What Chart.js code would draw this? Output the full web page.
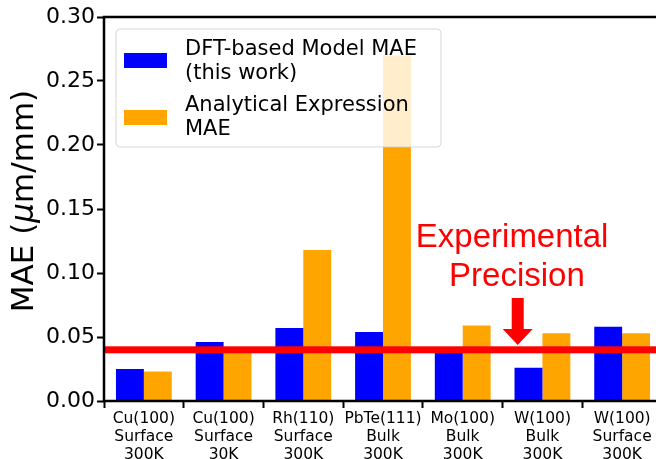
<!DOCTYPE html>
<html>
<head>
<meta charset="utf-8">
<script src="https://cdn.jsdelivr.net/npm/chart.js@4"></script>
<style>
  body { margin: 0; overflow: hidden; background: #fff; }
  #wrap { width: 680px; height: 459px; }
</style>
</head>
<body>
<div id="wrap"><canvas id="maeChart" width="680" height="459"></canvas></div>
<script>
// categories (one line per row of the tick label)
const systems = [
    ['Cu(100)', 'Surface', '300K'],
    ['Cu(100)', 'Surface', '30K'],
    ['Rh(110)', 'Surface', '300K'],
    ['PbTe(111)', 'Bulk', '300K'],
    ['Mo(100)', 'Bulk', '300K'],
    ['W(100)', 'Bulk', '300K'],
    ['W(100)', 'Surface', '300K']
];

// MAE in um/mm
const dftMae = [0.025, 0.046, 0.057, 0.054, 0.040, 0.026, 0.058];
const analyticalMae = [0.023, 0.041, 0.118, 0.270, 0.059, 0.053, 0.053];

const legendLines = [
    ['DFT-based Model MAE', '(this work)'],
    ['Analytical Expression', 'MAE']
];

const experimentalPrecision = 0.04;
const yTicks = [0, 0.05, 0.10, 0.15, 0.20, 0.25, 0.30];

const BLUE = '#0000ff';
const ORANGE = '#ffa500';
const RED = '#ff0000';

// red line, annotation, frame and legend drawn on top of the bars
const overlayPlugin = {
    id: 'overlay',
    afterDatasetsDraw(chart) {
        const ctx = chart.ctx;
        const area = chart.chartArea;
        const x = chart.scales.x;
        const y = chart.scales.y;

        // precision line
        ctx.save();
        const yp = y.getPixelForValue(experimentalPrecision);
        ctx.fillStyle = RED;
        ctx.fillRect(area.left, yp - 3.5, area.right - area.left, 7);

        // annotation text
        ctx.font = '33px "Liberation Sans", Arial, sans-serif';
        ctx.textAlign = 'center';
        ctx.textBaseline = 'alphabetic';
        ctx.fillText('Experimental', x.getPixelForValue(4.62), y.getPixelForValue(0.1203));
        ctx.fillText('Precision', x.getPixelForValue(4.68), y.getPixelForValue(0.0898));

        // arrow pointing at the line
        const ax = x.getPixelForValue(4.69);
        const top = y.getPixelForValue(0.0805);
        const neck = y.getPixelForValue(0.0562);
        const tip = y.getPixelForValue(0.0437);
        ctx.beginPath();
        ctx.moveTo(ax - 6, top);
        ctx.lineTo(ax + 6, top);
        ctx.lineTo(ax + 6, neck);
        ctx.lineTo(ax + 15, neck);
        ctx.lineTo(ax, tip);
        ctx.lineTo(ax - 15, neck);
        ctx.lineTo(ax - 6, neck);
        ctx.closePath();
        ctx.fill();

        // axes frame (left, bottom, top)
        ctx.strokeStyle = '#000';
        ctx.lineWidth = 2.5;
        ctx.beginPath();
        ctx.moveTo(area.right + 2, area.top);
        ctx.lineTo(area.left, area.top);
        ctx.lineTo(area.left, area.bottom);
        ctx.lineTo(area.right + 2, area.bottom);
        ctx.stroke();

        // legend box
        const lx = area.left + 12, ly = area.top + 12;
        ctx.fillStyle = 'rgba(255,255,255,0.8)';
        ctx.strokeStyle = 'rgba(204,204,204,0.8)';
        ctx.lineWidth = 1;
        ctx.beginPath();
        ctx.roundRect(lx, ly, 325, 118, 4);
        ctx.fill();
        ctx.stroke();

        const colors = [BLUE, ORANGE];
        const patchY = [24, 81];
        const baselines = [[26, 50], [82, 106]];
        ctx.font = '21px "DejaVu Sans"';
        ctx.textAlign = 'left';
        legendLines.forEach((lines, i) => {
            ctx.fillStyle = colors[i];
            ctx.fillRect(lx + 8, ly + patchY[i], 43, 15);
            ctx.fillStyle = '#000';
            lines.forEach((t, j) => ctx.fillText(t, lx + 69, ly + baselines[i][j]));
        });
        ctx.restore();
    },
    afterDraw(chart) {
        // y axis title with italic mu
        const ctx = chart.ctx;
        const area = chart.chartArea;
        ctx.save();
        ctx.translate(33, (area.top + area.bottom) / 2 - 8);
        ctx.rotate(-Math.PI / 2);
        ctx.fillStyle = '#000';
        ctx.textBaseline = 'alphabetic';
        const parts = [
            ['MAE (', '31px "DejaVu Sans"'],
            ['\u03bc', 'italic 31px "DejaVu Sans"'],
            ['m/mm)', '31px "DejaVu Sans"']
        ];
        let total = 0;
        parts.forEach(p => { ctx.font = p[1]; total += ctx.measureText(p[0]).width; });
        let cx = -total / 2;
        parts.forEach(p => {
            ctx.font = p[1];
            ctx.fillText(p[0], cx, 0);
            cx += ctx.measureText(p[0]).width;
        });
        ctx.restore();
    }
};

Chart.defaults.font.family = '"DejaVu Sans"';
Chart.defaults.color = '#000';

const ctx = document.getElementById('maeChart').getContext('2d');

const chart = new Chart(ctx, {
    type: 'bar',
    data: {
        labels: systems,
        datasets: [{
            label: legendLines[0].join(' '),
            data: dftMae,
            backgroundColor: BLUE,
            borderWidth: 0,
            categoryPercentage: 0.7,
            barPercentage: 1.0
        }, {
            label: legendLines[1].join(' '),
            data: analyticalMae,
            backgroundColor: ORANGE,
            borderWidth: 0,
            categoryPercentage: 0.7,
            barPercentage: 1.0
        }]
    },
    options: {
        responsive: false,
        animation: false,
        layout: { padding: { top: 17, right: 18, left: 0, bottom: 0 } },
        scales: {
            x: {
                grid: {
                    display: true,
                    drawOnChartArea: false,
                    drawTicks: true,
                    tickLength: 7,
                    tickWidth: 2,
                    tickColor: '#000'
                },
                border: { display: false },
                ticks: {
                    font: { size: 15.5, lineHeight: 1.15 },
                    padding: 2,
                    maxRotation: 0,
                    autoSkip: false
                },
                afterFit(scale) { scale.height = 58; }
            },
            y: {
                min: 0,
                max: 0.3,
                afterBuildTicks(scale) {
                    scale.ticks = yTicks.map(v => ({ value: v }));
                },
                grid: {
                    display: true,
                    drawOnChartArea: false,
                    drawTicks: true,
                    tickLength: 7,
                    tickWidth: 2,
                    tickColor: '#000'
                },
                border: { display: false },
                ticks: {
                    font: { size: 22 },
                    padding: 2,
                    callback: v => Number(v).toFixed(2)
                },
                afterFit(scale) { scale.width = 104; }
            }
        },
        plugins: {
            legend: { display: false },
            tooltip: { enabled: false }
        }
    },
    plugins: [overlayPlugin]
});
</script>
</body>
</html>
